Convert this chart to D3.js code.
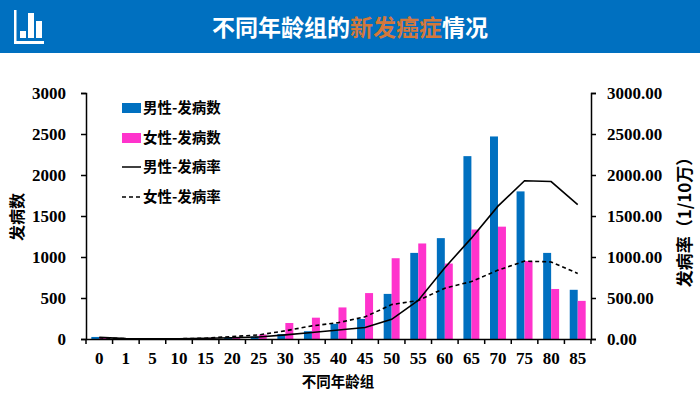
<!DOCTYPE html>
<html>
<head>
<meta charset="utf-8">
<script src="https://cdn.jsdelivr.net/npm/d3@7"></script>
<style>
  html, body { margin: 0; padding: 0; background: #fff; }
  svg { display: block; }
  .axis path, .axis line { stroke: #000; stroke-width: 1.5px; }
  .axis text { font-family: "Liberation Serif", serif; font-weight: bold; font-size: 17px; fill: #000; }
  .cjk { font-family: "Noto Sans CJK SC", sans-serif; font-weight: bold; fill: #000; }
</style>
</head>
<body>
<div id="chart"></div>
<script>
const ageGroups = ["0", "1", "5", "10", "15", "20", "25", "30", "35", "40", "45", "50", "55", "60", "65", "70", "75", "80", "85"];
const maleCases = [25, 5, 3, 5, 10, 15, 30, 60, 95, 185, 245, 550, 1050, 1230, 2230, 2470, 1800, 1050, 600];
const femaleCases = [15, 3, 2, 3, 12, 25, 55, 195, 260, 385, 560, 985, 1165, 920, 1335, 1370, 950, 610, 465];
const maleRate = [20, 5, 2, 3, 10, 15, 25, 50, 80, 110, 140, 240, 470, 870, 1230, 1620, 1930, 1920, 1640];
const femaleRate = [15, 4, 2, 3, 10, 30, 50, 100, 160, 200, 270, 420, 470, 620, 700, 840, 950, 940, 800];
const casesTicks = [0, 500, 1000, 1500, 2000, 2500, 3000];
const legendLabels = ["男性-发病数", "女性-发病数", "男性-发病率", "女性-发病率"];

const width = 700, height = 395;
const margin = { top: 93, right: 109, bottom: 56, left: 86 };
const blue = "#0070c0", pink = "#ff33cc";

const svg = d3.select("#chart").append("svg").attr("width", width).attr("height", height);

// header band
svg.append("rect").attr("width", width).attr("height", 53).attr("fill", blue);
const title = svg.append("text").attr("class", "cjk").attr("x", 350).attr("y", 36)
  .attr("text-anchor", "middle").style("font-size", "23px").style("fill", "#fff");
title.append("tspan").text("不同年龄组的");
title.append("tspan").text("新发癌症").style("fill", "#d2783c");
title.append("tspan").text("情况");

// header icon
const icon = svg.append("g").attr("fill", "#fff");
icon.append("rect").attr("x", 14).attr("y", 10).attr("width", 2.5).attr("height", 34);
icon.append("rect").attr("x", 14).attr("y", 41).attr("width", 30).attr("height", 3);
icon.append("rect").attr("x", 20).attr("y", 31).attr("width", 6).attr("height", 7);
icon.append("rect").attr("x", 28).attr("y", 13).attr("width", 6).attr("height", 25);
icon.append("rect").attr("x", 36).attr("y", 21).attr("width", 6).attr("height", 17);

const x = d3.scaleBand().domain(ageGroups).range([margin.left, width - margin.right]).paddingInner(0.4).paddingOuter(0.2);
const yCases = d3.scaleLinear().domain([0, 3000]).range([height - margin.bottom, margin.top]);
const yRate = d3.scaleLinear().domain([0, 3000]).range([height - margin.bottom, margin.top]);
const barW = x.bandwidth() / 2;

// bars
svg.append("g").selectAll("rect").data(maleCases).join("rect")
  .attr("x", (d, i) => x(ageGroups[i]))
  .attr("y", (d) => yCases(d))
  .attr("width", barW)
  .attr("height", (d) => yCases(0) - yCases(d))
  .attr("fill", blue);
svg.append("g").selectAll("rect").data(femaleCases).join("rect")
  .attr("x", (d, i) => x(ageGroups[i]) + barW)
  .attr("y", (d) => yCases(d))
  .attr("width", barW)
  .attr("height", (d) => yCases(0) - yCases(d))
  .attr("fill", pink);

// rate lines
const line = d3.line()
  .x((d, i) => x(ageGroups[i]) + barW)
  .y((d) => yRate(d));
svg.append("path").attr("d", line(maleRate)).attr("fill", "none").attr("stroke", "#000").attr("stroke-width", 1.6);
svg.append("path").attr("d", line(femaleRate)).attr("fill", "none").attr("stroke", "#000")
  .attr("stroke-width", 1.6).attr("stroke-dasharray", "4,3");

// axes
svg.append("g").attr("class", "axis")
  .attr("transform", `translate(${margin.left},0)`)
  .call(d3.axisLeft(yCases).tickValues(casesTicks).tickFormat(d3.format("d")).tickSize(5).tickPadding(15));
svg.append("g").attr("class", "axis")
  .attr("transform", `translate(${width - margin.right},0)`)
  .call(d3.axisRight(yRate).tickValues(casesTicks).tickSize(5).tickPadding(11).tickFormat(d3.format(".2f")));
const xAxis = svg.append("g").attr("class", "axis")
  .attr("transform", `translate(0,${height - margin.bottom})`)
  .call(d3.axisBottom(x).tickSize(0).tickPadding(13));
// ticks sit between the categories
xAxis.selectAll(".cat-tick").data(d3.range(ageGroups.length + 1)).join("line")
  .attr("class", "cat-tick")
  .attr("x1", (d) => margin.left + d * x.step())
  .attr("x2", (d) => margin.left + d * x.step())
  .attr("y1", 0).attr("y2", 5);

// axis titles
svg.append("text").attr("class", "cjk").attr("text-anchor", "middle")
  .attr("transform", "translate(23,217) rotate(-90)").style("font-size", "16px").text("发病数");
svg.append("text").attr("class", "cjk").attr("text-anchor", "middle")
  .attr("transform", "translate(691,218) rotate(-90)").style("font-size", "17px").text("发病率（1/10万）");
svg.append("text").attr("class", "cjk").attr("text-anchor", "middle")
  .attr("x", 338).attr("y", 387).style("font-size", "14.5px").text("不同年龄组");

// legend
const legendY = [108, 138, 167, 197];
const legend = svg.append("g").selectAll("g").data(legendLabels).join("g")
  .attr("transform", (d, i) => `translate(122,${legendY[i]})`);
legend.append("text").attr("class", "cjk").attr("x", 21).attr("y", 5)
  .style("font-size", "14.5px").text((d) => d);
legend.filter((d, i) => i < 2).append("rect")
  .attr("y", -5).attr("width", 19).attr("height", 10)
  .attr("fill", (d, i) => (i === 0 ? blue : pink));
legend.filter((d, i) => i >= 2).append("line")
  .attr("x2", 19).attr("stroke", "#000").attr("stroke-width", 1.5)
  .attr("stroke-dasharray", (d, i) => (i === 1 ? "4,3" : null));
</script>
</body>
</html>
